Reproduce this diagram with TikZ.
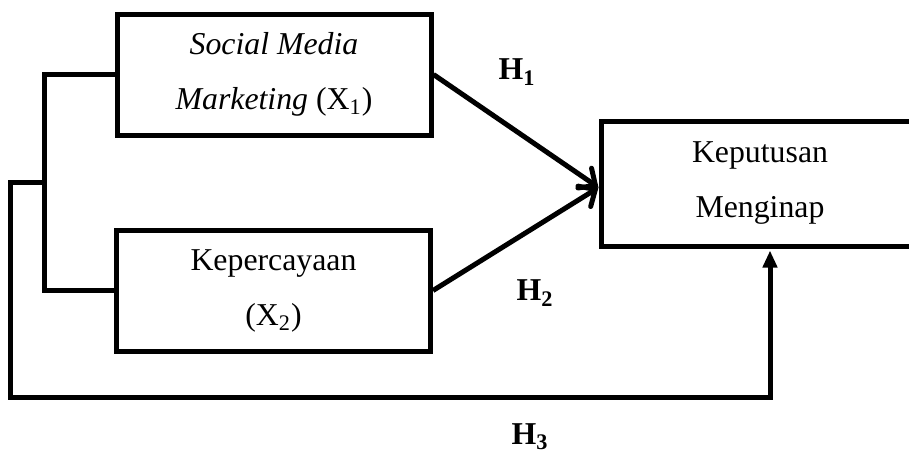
\documentclass[tikz,border=0pt]{standalone}
\usepackage{fontspec}
\setmainfont{Liberation Serif}
\usetikzlibrary{arrows.meta,positioning,calc}
\definecolor{linec}{HTML}{000000}
\tikzset{
  varbox/.style={draw=linec,line width=2.5pt,fill=white,minimum width=157pt,minimum height=60.5pt,inner sep=0pt,align=center,font=\fontsize{15.9}{27.5}\selectfont},
  hyp/.style={font=\fontsize{15.9}{18}\selectfont\bfseries,inner sep=1pt},
  conn/.style={draw=linec,line width=2.5pt},
  ptr/.style={conn,-{Straight Barb[length=6.5pt,width=12pt,line cap=round]}},
  ptrtri/.style={conn,-{Triangle[length=8.5pt,width=7pt]}},
}

\begin{document}
\begin{tikzpicture}[x=0.5pt,y=-0.5pt]
  \useasboundingbox (0,0) rectangle (909,452);
  \clip (0,0) rectangle (909,452);
  \node[varbox] (x1) at (274,74.5) {\textit{Social Media}\\\textit{Marketing} (X\textsubscript{1})};
  \node[varbox] (x2) at (273.5,290.5) {Kepercayaan\\(X\textsubscript{2})};
  \node[varbox,minimum width=159pt,minimum height=62.5pt] (y) at (760,183.5) {Keputusan\\Menginap};
  % bracket joining X1 and X2
  \draw[conn] (x1.west) -- ++(-70,0) coordinate (jn) |- (x2.west);
  \coordinate (mid) at ($(jn)!0.5!(jn |- x2.west)$);
  % paths into Y
  \coordinate (tip) at ([yshift=-2pt]y.west);
  \coordinate (h3end) at ([xshift=5pt]y.south);
  \coordinate (floor) at (0,397);
  \draw[ptr] (x1.east) -- (tip);
  \draw[ptr] (x2.east) -- (tip);
  \draw[ptrtri,shorten >=1pt] (mid) -- ++(-34,0) |- (h3end |- floor) -- (h3end);
  \node[hyp] (h1) at (517,72) {H\textsubscript{1}};
  \node[hyp] (h2) at (535,293) {H\textsubscript{2}};
  \node[hyp] (h3) at (530,437) {H\textsubscript{3}};
\end{tikzpicture}
\end{document}
